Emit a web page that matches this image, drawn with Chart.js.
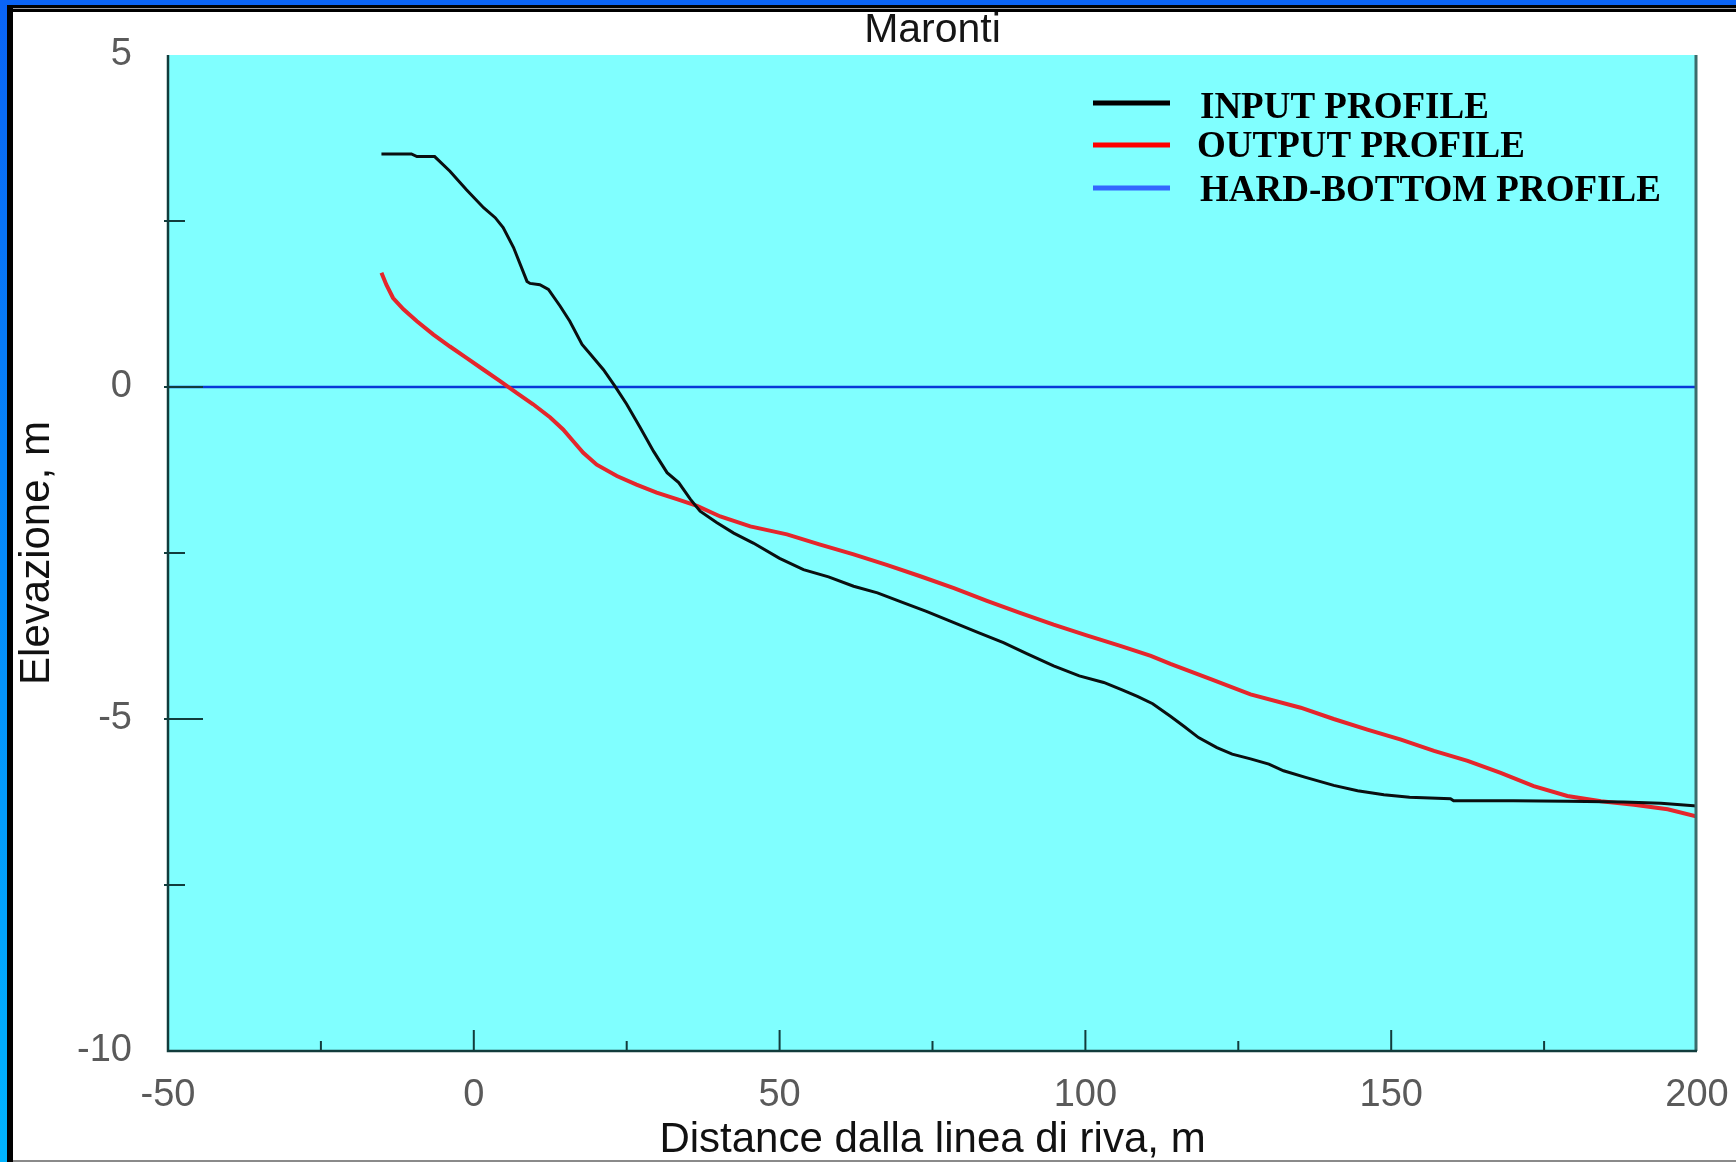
<!DOCTYPE html>
<html>
<head>
<meta charset="utf-8">
<script src="https://cdn.jsdelivr.net/npm/chart.js@4.4.1/dist/chart.umd.min.js"></script>
<style>
  html, body { margin: 0; padding: 0; background: #fff; }
  #wrap { position: relative; width: 1736px; height: 1162px; }
  canvas { display: block; }
</style>
</head>
<body>
<div id="wrap"><canvas id="c" width="1736" height="1162"></canvas></div>
<script>
// ---- data ----
const chartTitle = 'Maronti';
const xAxisTitle = 'Distance dalla linea di riva, m';
const yAxisTitle = 'Elevazione, m';
const seriesLabels = ['INPUT PROFILE', 'OUTPUT PROFILE', 'HARD-BOTTOM PROFILE'];

const inputDist = [-15.1, -10.2, -9.3, -6.4, -3.9, -1.2, 1.6, 3.5, 4.8, 6.5, 8.7, 9.2, 10.8, 12.2, 14.1, 15.7, 17.7, 19.0, 21.2, 23.1, 25.0, 27.2, 29.4, 31.6, 33.5, 35.4, 37.0, 39.7, 42.5, 45.7, 50.0, 53.9, 58.0, 62.1, 66.0, 70.3, 74.0, 78.5, 82.5, 86.6, 90.5, 94.8, 99.0, 103.0, 106.0, 108.5, 111.0, 113.9, 116.1, 118.5, 121.5, 124.0, 127.0, 130.0, 132.4, 136.0, 140.6, 144.5, 148.8, 153.0, 159.7, 160.2, 170.0, 178.8, 188.0, 194.1, 200.0];
const inputElev = [3.51, 3.51, 3.47, 3.47, 3.25, 2.97, 2.70, 2.55, 2.40, 2.10, 1.59, 1.56, 1.54, 1.47, 1.22, 0.99, 0.64, 0.50, 0.26, 0.01, -0.26, -0.61, -0.97, -1.29, -1.44, -1.69, -1.87, -2.04, -2.20, -2.35, -2.58, -2.75, -2.86, -3.00, -3.10, -3.25, -3.38, -3.55, -3.70, -3.85, -4.02, -4.20, -4.35, -4.45, -4.56, -4.66, -4.77, -4.96, -5.11, -5.28, -5.43, -5.53, -5.60, -5.68, -5.78, -5.88, -6.00, -6.08, -6.14, -6.18, -6.20, -6.23, -6.23, -6.24, -6.25, -6.27, -6.31];

const outputDist = [-15.1, -14.3, -13.2, -11.5, -9.3, -6.6, -3.9, -1.2, 1.6, 4.3, 7.0, 9.7, 12.5, 14.6, 16.3, 17.9, 20.1, 23.4, 26.6, 29.9, 33.2, 36.5, 40.3, 45.2, 51.2, 56.5, 62.1, 67.5, 73.0, 78.5, 83.9, 89.3, 94.8, 100.2, 105.7, 110.7, 113.9, 120.5, 127.0, 135.2, 140.6, 146.1, 151.6, 157.0, 162.5, 167.9, 173.3, 178.8, 184.3, 189.7, 195.2, 200.0];
const outputElev = [1.72, 1.54, 1.34, 1.17, 0.99, 0.79, 0.61, 0.44, 0.26, 0.09, -0.09, -0.26, -0.46, -0.64, -0.82, -0.99, -1.17, -1.34, -1.47, -1.59, -1.69, -1.79, -1.95, -2.10, -2.22, -2.37, -2.52, -2.68, -2.85, -3.03, -3.22, -3.40, -3.58, -3.74, -3.90, -4.05, -4.17, -4.40, -4.63, -4.83, -5.00, -5.16, -5.31, -5.48, -5.63, -5.81, -6.01, -6.16, -6.24, -6.29, -6.36, -6.47];

const hardDist = [-50, 200];
const hardElev = [0, 0];

const xLabelTicks = [-50, 0, 50, 100, 150, 200];
const yLabelTicks = [-10, -5, 0, 5];

// ---- build ----
const toPoints = (xs, ys) => xs.map((x, i) => ({ x: x, y: ys[i] }));

const legendColors = ['#000000', '#ff0000', '#3366ff'];

const decor = {
  id: 'decor',
  beforeDraw(chart) {
    const { ctx, chartArea: a, width, height } = chart;
    ctx.save();
    ctx.fillStyle = '#ffffff';
    ctx.fillRect(0, 0, width, height);
    ctx.fillStyle = '#80ffff';
    ctx.fillRect(a.left, a.top, a.right - a.left, a.bottom - a.top);
    ctx.fillStyle = '#0a64f5';
    ctx.fillRect(0, 0, width, 5);
    const g = ctx.createLinearGradient(0, 0, 0, height);
    g.addColorStop(0, '#0a64f5');
    g.addColorStop(1, '#00b4ff');
    ctx.fillStyle = g;
    ctx.fillRect(0, 0, 7, height);
    ctx.fillStyle = '#000000';
    ctx.fillRect(7, 5, width - 7, 7);
    ctx.fillRect(7, 5, 6, height - 5);
    ctx.fillStyle = '#9a9a9a';
    ctx.fillRect(13, 8, width - 13, 1);
    ctx.fillStyle = '#8a8a8a';
    ctx.fillRect(13, height - 2, width - 13, 2);
    ctx.restore();
  },
  afterDatasetsDraw(chart) {
    const { ctx, chartArea: a, scales } = chart;
    const xs = scales.x, ys = scales.y;
    ctx.save();
    ctx.strokeStyle = '#3c6c6c';
    ctx.lineWidth = 3;
    ctx.beginPath();
    ctx.moveTo(a.right - 1, a.top);
    ctx.lineTo(a.right - 1, a.bottom);
    ctx.stroke();
    ctx.strokeStyle = '#123c3c';
    ctx.lineWidth = 2.5;
    ctx.beginPath();
    ctx.moveTo(a.left, a.top);
    ctx.lineTo(a.left, a.bottom);
    ctx.lineTo(a.right, a.bottom);
    ctx.stroke();
    ctx.lineWidth = 2;
    ctx.beginPath();
    xs.ticks.forEach(t => {
      if (t.value <= xs.min || t.value >= xs.max) return;
      const px = xs.getPixelForValue(t.value);
      const len = xLabelTicks.includes(t.value) ? 21 : 10;
      ctx.moveTo(px, a.bottom);
      ctx.lineTo(px, a.bottom - len);
    });
    ys.ticks.forEach(t => {
      if (t.value <= ys.min || t.value >= ys.max) return;
      const py = ys.getPixelForValue(t.value);
      const len = yLabelTicks.includes(t.value) ? 35 : 17;
      ctx.moveTo(a.left - 4, py);
      ctx.lineTo(a.left + len, py);
    });
    ctx.stroke();
    // title
    ctx.fillStyle = '#151515';
    ctx.font = '41px "Liberation Sans", Arial, sans-serif';
    ctx.textAlign = 'center';
    ctx.textBaseline = 'middle';
    ctx.fillText(chartTitle, (a.left + a.right) / 2, 31);
    // legend
    const lx0 = 1093, lx1 = 1170, tx = 1200;
    const rows = [103, 145, 188];
    const textDy = [5, 2, 3];
    ctx.font = 'bold 37px "Liberation Serif", "Times New Roman", serif';
    ctx.textAlign = 'left';
    chart.data.datasets.forEach((ds, i) => {
      ctx.strokeStyle = legendColors[i];
      ctx.lineWidth = 5;
      ctx.beginPath();
      ctx.moveTo(lx0, rows[i]);
      ctx.lineTo(lx1, rows[i]);
      ctx.stroke();
      ctx.fillStyle = '#000000';
      ctx.fillText(ds.label, tx + (i === 1 ? -3 : 0), rows[i] + textDy[i]);
    });
    ctx.restore();
  }
};

const tickFont = { family: '"Liberation Sans Narrow", "Liberation Sans", Arial, sans-serif', size: 38 };

new Chart(document.getElementById('c'), {
  type: 'line',
  data: {
    datasets: [
      { label: seriesLabels[0], data: toPoints(inputDist, inputElev), borderColor: '#0a0f10', borderWidth: 3, pointRadius: 0, tension: 0 },
      { label: seriesLabels[1], data: toPoints(outputDist, outputElev), borderColor: '#e4262c', borderWidth: 4, pointRadius: 0, tension: 0 },
      { label: seriesLabels[2], data: toPoints(hardDist, hardElev), borderColor: '#0838d8', borderWidth: 2.5, pointRadius: 0, tension: 0 }
    ]
  },
  options: {
    responsive: false,
    animation: false,
    devicePixelRatio: 1,
    layout: { padding: { top: 55, right: 39, bottom: 0, left: 0 } },
    plugins: {
      legend: { display: false },
      title: { display: false },
      tooltip: { enabled: false }
    },
    scales: {
      x: {
        type: 'linear',
        min: -50, max: 200,
        ticks: {
          stepSize: 25,
          padding: 22,
          color: '#5a5a5a',
          font: tickFont,
          maxRotation: 0,
          autoSkip: false,
          callback: v => (xLabelTicks.includes(v) ? String(v) : '')
        },
        grid: { display: false, drawTicks: false },
        border: { display: false },
        title: {
          display: true, text: xAxisTitle, color: '#111111',
          font: { family: '"Liberation Sans", Arial, sans-serif', size: 42, lineHeight: 1 },
          padding: { top: 0, bottom: 1 }
        },
        afterFit: s => { s.height = 111; s.paddingLeft = 0; s.paddingRight = 0; }
      },
      y: {
        type: 'linear',
        min: -10, max: 5,
        ticks: {
          stepSize: 2.5,
          padding: 36,
          color: '#5a5a5a',
          font: tickFont,
          autoSkip: false,
          callback: v => (yLabelTicks.includes(v) ? String(v) : '')
        },
        grid: { display: false, drawTicks: false },
        border: { display: false },
        title: {
          display: true, text: yAxisTitle, color: '#111111',
          font: { family: '"Liberation Sans", Arial, sans-serif', size: 42, lineHeight: 1 },
          padding: { top: 16, bottom: 0 }
        },
        afterFit: s => { s.width = 168; s.paddingTop = 0; s.paddingBottom = 0; }
      }
    }
  },
  plugins: [decor]
});
</script>
</body>
</html>
